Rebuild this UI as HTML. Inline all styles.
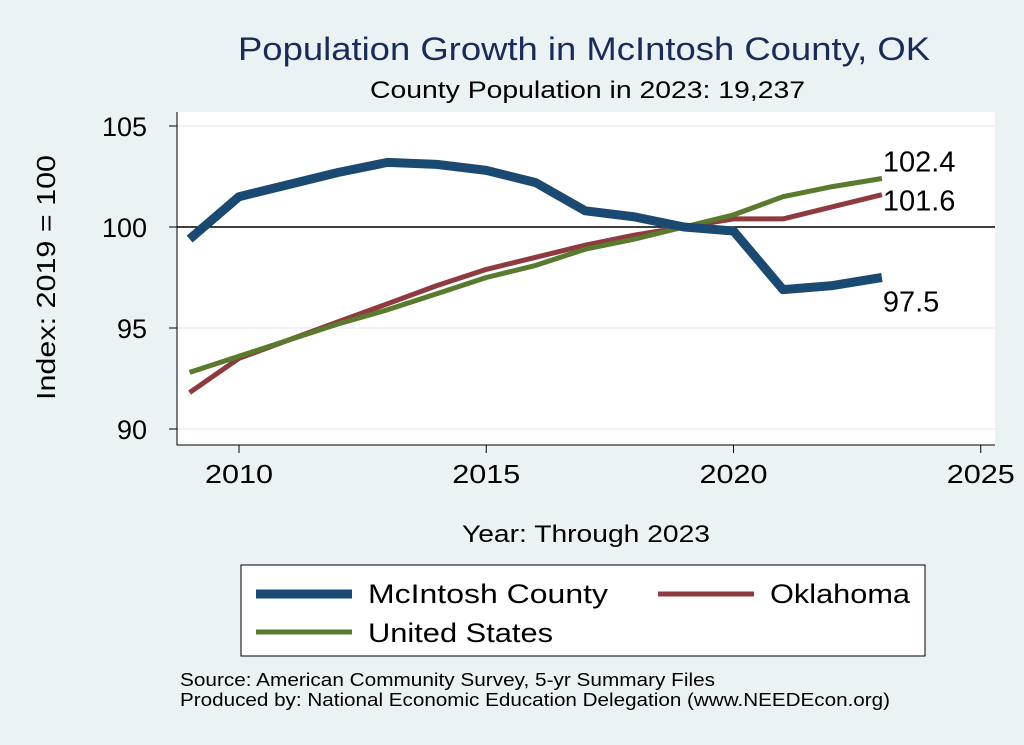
<!DOCTYPE html>
<html><head><meta charset="utf-8"><style>
body{margin:0;background:#eaf2f3;font-family:"Liberation Sans",sans-serif}
svg{display:block}
</style></head><body>
<svg width="1024" height="745" viewBox="0 0 1024 745">
<rect width="1024" height="745" fill="#eaf2f3"/>
<text x="238" y="60" font-size="32" textLength="692" lengthAdjust="spacingAndGlyphs" fill="#1a2a5a">Population Growth in McIntosh County, OK</text>
<text x="370" y="98" font-size="24" textLength="435" lengthAdjust="spacingAndGlyphs" fill="#000">County Population in 2023: 19,237</text>
<rect x="177" y="112" width="818" height="333" fill="#fff"/>
<g id="grid"></g>
<g id="axes"></g>
<g id="series"></g>
<text transform="translate(55,400) rotate(-90)" font-size="26" textLength="245" lengthAdjust="spacingAndGlyphs">Index: 2019 = 100</text>
<text x="462" y="542" font-size="24" textLength="248" lengthAdjust="spacingAndGlyphs">Year: Through 2023</text>
<g>
<rect x="241" y="565" width="684" height="91" fill="#fff" stroke="#000" stroke-width="1"/>
<g><line x1="256" y1="594" x2="352" y2="594" stroke="#1a4a72" stroke-width="9"/><text x="368" y="603" font-size="27" textLength="240" lengthAdjust="spacingAndGlyphs">McIntosh  County</text></g>
<g><line x1="658" y1="594" x2="754" y2="594" stroke="#8e3a3e" stroke-width="5"/><text x="770" y="603" font-size="27" textLength="140" lengthAdjust="spacingAndGlyphs">Oklahoma</text></g>
<g><line x1="256" y1="632" x2="352" y2="632" stroke="#5a7a2e" stroke-width="5"/><text x="368" y="642" font-size="27" textLength="185" lengthAdjust="spacingAndGlyphs">United States</text></g>
</g>
<text x="180" y="686" font-size="18" textLength="535" lengthAdjust="spacingAndGlyphs">Source: American Community Survey, 5-yr Summary Files</text>
<text x="180" y="706" font-size="18" textLength="710" lengthAdjust="spacingAndGlyphs">Produced by: National Economic Education Delegation (www.NEEDEcon.org)</text>
</svg>
<script>
const years=[2009,2010,2011,2012,2013,2014,2015,2016,2017,2018,2019,2020,2021,2022,2023];
const mcintosh=[99.4,101.5,102.1,102.7,103.2,103.1,102.8,102.2,100.8,100.5,100.0,99.8,96.9,97.1,97.5];
const oklahoma=[91.8,93.5,94.4,95.3,96.2,97.1,97.9,98.5,99.1,99.6,100.0,100.4,100.4,101.0,101.6];
const unitedStates=[92.8,93.6,94.4,95.2,95.9,96.7,97.5,98.1,98.9,99.4,100.0,100.6,101.5,102.0,102.4];
const xTicks=[2010,2015,2020,2025];
const yTicks=[90,95,100,105];
const NS="http://www.w3.org/2000/svg";
const x=v=>239+(v-2010)*49.45;
const y=v=>227-(v-100)*20.2;
function mk(tag,attrs,parent,txt){const e=document.createElementNS(NS,tag);for(const k in attrs)e.setAttribute(k,attrs[k]);if(txt!=null)e.textContent=txt;document.getElementById(parent).appendChild(e);return e;}
yTicks.forEach(t=>{
 const g=mk('line',{x1:177,x2:995,y1:y(t),y2:y(t),stroke:t===100?'#000':'#e4eef0','stroke-width':t===100?1.5:1.2},'grid');
 
 
 const tk=mk('line',{x1:169,x2:177,y1:y(t),y2:y(t),stroke:'#000'},'axes');
 
 
 const l=mk('text',{x:147,y:y(t)+10,'text-anchor':'end','font-size':27},'axes',t);
 
 
});
xTicks.forEach(t=>{
 const tk=mk('line',{x1:x(t),x2:x(t),y1:445,y2:453,stroke:'#000'},'axes');
 
 
 const l=mk('text',{x:x(t)-34,y:483,'font-size':26,textLength:68,lengthAdjust:'spacingAndGlyphs'},'axes',t);
 
 
});
const al=mk('path',{d:'M177 112 V445 H995',fill:'none',stroke:'#000','stroke-width':1},'axes');


function line(vals,color,w,name){
 const d=vals.map((v,i)=>(i?'L':'M')+x(years[i]).toFixed(1)+' '+y(v).toFixed(1)).join(' ');
 const p=mk('path',{d:d,fill:'none',stroke:color,'stroke-width':w,'stroke-linejoin':'round'},'series');
 
 
}
line(oklahoma,'#8e3a3e',5,'oklahoma-line');
line(unitedStates,'#5a7a2e',5,'us-line');
line(mcintosh,'#1a4a72',9,'mcintosh-line');
const last=years.length-1;
const lbls=[[unitedStates[last],-7,'us-end-label'],[oklahoma[last],16,'oklahoma-end-label'],[mcintosh[last],34,'mcintosh-end-label']];
lbls.forEach(([v,dy,n])=>{
 const t=mk('text',{x:x(years[last])+1,y:y(v)+dy,'font-size':29},'series',v.toFixed(1));
 
 
});
</script>
</body></html>
